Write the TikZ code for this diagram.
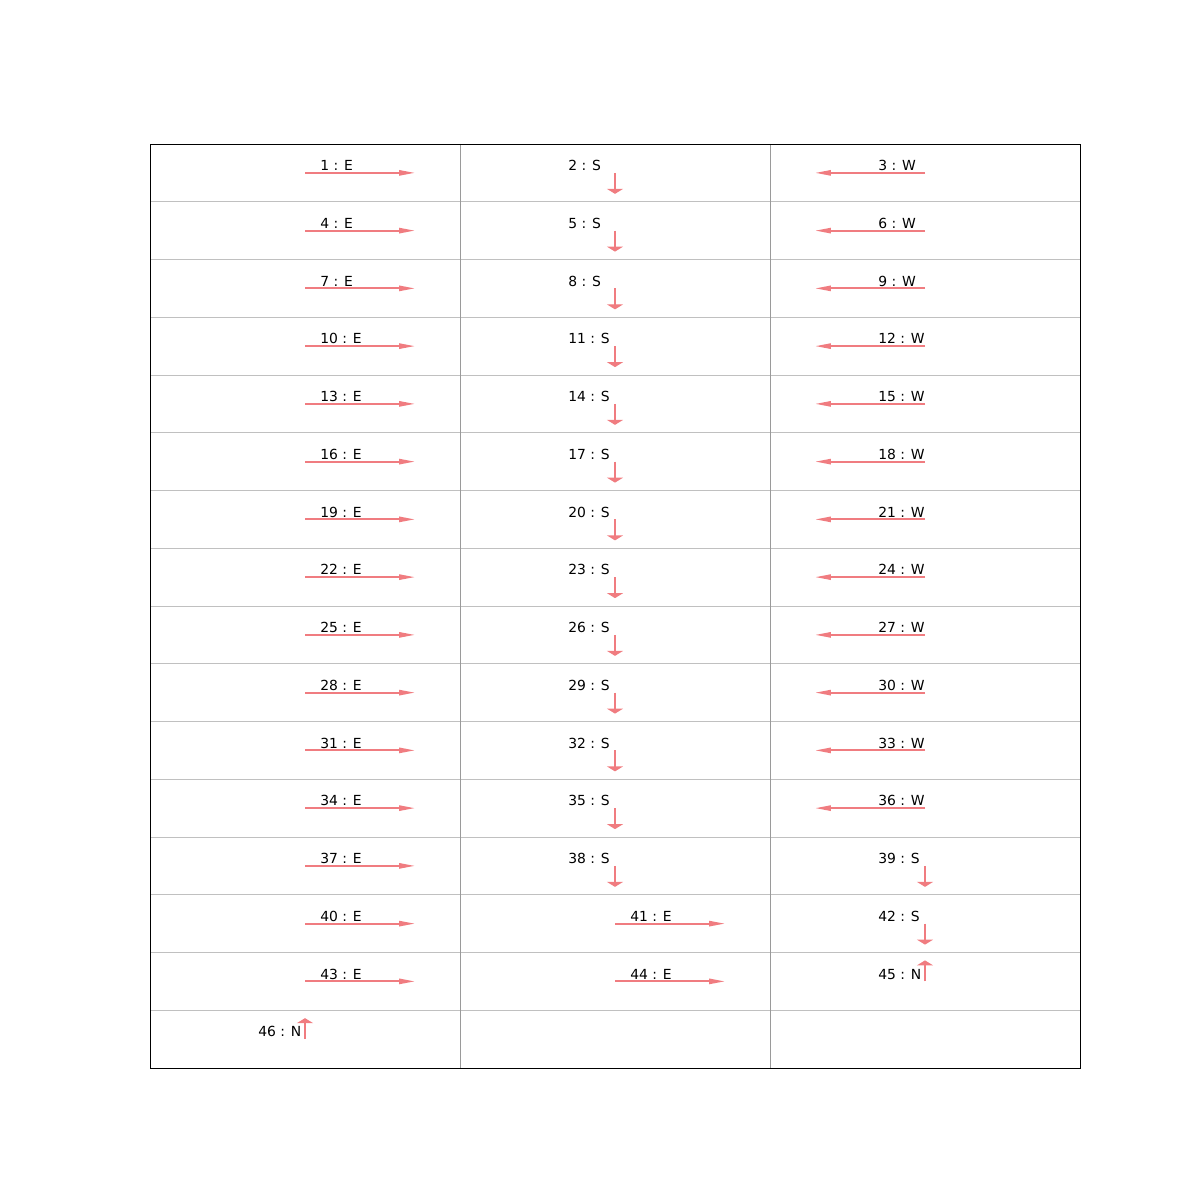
\documentclass[tikz,border=0pt]{standalone}
\usepackage{fontspec}
\setmainfont{DejaVu Sans}
\usetikzlibrary{arrows.meta}
\definecolor{cArrow}{RGB}{240,124,128}
\definecolor{cGrid}{RGB}{192,192,192}

% --- one cell: centre, move arrow and its label ---
% #1 index, #2 column, #3 row, #4 direction (E, S, W, N)
\newcommand{\cellMove}[4]{
    \pgfmathsetmacro{\cx}{305+310*(#2-1)}
    \pgfmathsetmacro{\cy}{172.875+57.75*(#3-1)}
    \coordinate (c#1) at (\cx,\cy);
    \coordinate (t#1) at ([tip#4]c#1);
    \draw[move, head#4] (c#1) -- (t#1);
    \node[lbl, lbl#4] (l#1) at (c#1) {#1 : #4};
}

\begin{document}
\begin{tikzpicture}[
    x=0.72pt, y=-0.72pt,
    font=\fontsize{10}{12}\selectfont,
    move/.style={draw=cArrow, line width=1.3pt},
    headE/.style={-{Triangle[length=11.5pt, width=3.8pt]}},
    headW/.style={-{Triangle[length=11.5pt, width=3.8pt]}},
    headS/.style={-{Triangle[length=3.6pt, width=11.5pt]}},
    headN/.style={-{Triangle[length=3.6pt, width=11.5pt]}},
    tipE/.style={shift={(110,0)}},
    tipW/.style={shift={(-110,0)}},
    tipS/.style={shift={(0,21)}},
    tipN/.style={shift={(0,-21)}},
    lbl/.style={anchor=base west, inner sep=0pt},
    lblE/.style={xshift=10.8pt, yshift=1.6pt},
    lblS/.style={xshift=-33.8pt, yshift=1.6pt},
    lblW/.style={xshift=-33.8pt, yshift=1.6pt},
    lblN/.style={xshift=-33.8pt, yshift=1.6pt}
]
    \useasboundingbox (0,0) rectangle (1200,1200);

    % Gitter
    \foreach \k in {1,...,15}
        \draw[cGrid, line width=0.72pt] (150,{144+57.75*\k}) -- (1080,{144+57.75*\k});
    \foreach \xx in {460,770}
        \draw[cGrid!80!black, line width=0.72pt] (\xx,144) -- (\xx,1068);
    \draw[black, line width=0.6pt] (150,144) rectangle (1080,1068);

    % Spalte 1
    \foreach \row in {1,...,15} {
        \pgfmathtruncatemacro{\n}{3*\row-2}
        \cellMove{\n}{1}{\row}{E}
    }
    \cellMove{46}{1}{16}{N}

    % Spalte 2
    \foreach \row in {1,...,13} {
        \pgfmathtruncatemacro{\n}{3*\row-1}
        \cellMove{\n}{2}{\row}{S}
    }
    \cellMove{41}{2}{14}{E}
    \cellMove{44}{2}{15}{E}

    % Spalte 3
    \foreach \row in {1,...,12} {
        \pgfmathtruncatemacro{\n}{3*\row}
        \cellMove{\n}{3}{\row}{W}
    }
    \cellMove{39}{3}{13}{S}
    \cellMove{42}{3}{14}{S}
    \cellMove{45}{3}{15}{N}

\end{tikzpicture}
\end{document}
